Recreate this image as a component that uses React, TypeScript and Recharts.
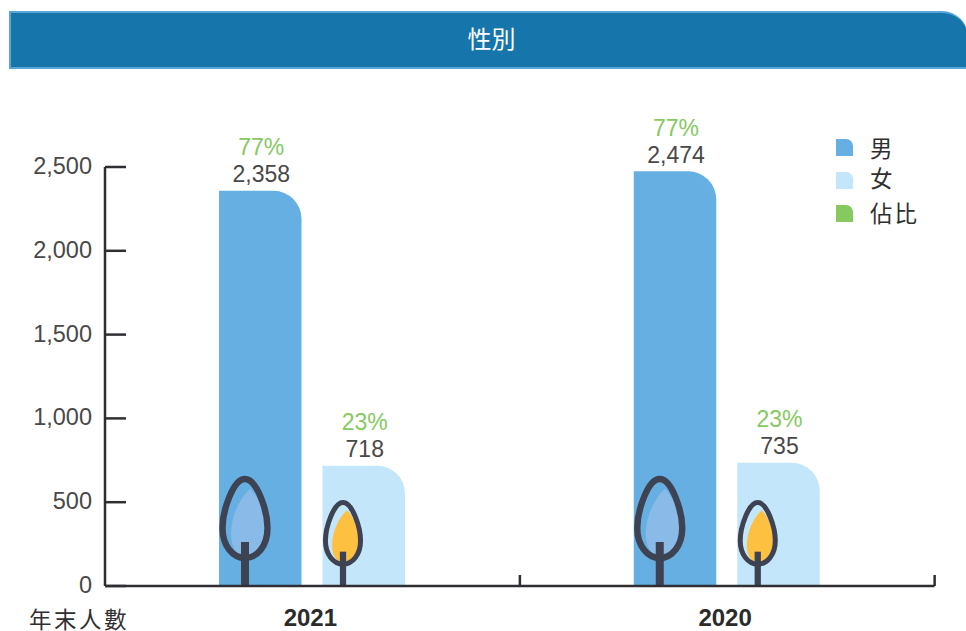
import React from 'react';
import { BarChart, Bar, XAxis, YAxis, LabelList, Legend, Rectangle } from 'recharts';

const years = ['2021', '2020'];
const maleCounts = [2358, 2474];
const femaleCounts = [718, 735];
const malePct = ['77%', '77%'];
const femalePct = ['23%', '23%'];
const yTicks = [0, 500, 1000, 1500, 2000, 2500];

const legendNames = ['男', '女', '佔比'];
const MALE = '#66afe2';
const FEMALE = '#c3e6fa';
const GREEN = '#85c95f';
const INK = '#2f2f33';
const NUM_FONT = '"Liberation Sans", Arial, sans-serif';
const CJK_FONT = '"Noto Sans CJK TC", "Noto Sans", sans-serif';
const legendColors = [MALE, FEMALE, GREEN];

const data = years.map((year, i) => ({
  year,
  male: maleCounts[i],
  female: femaleCounts[i],
  malePct: malePct[i],
  femalePct: femalePct[i],
}));

const BAND = 415;

const Tree = ({ cx, base, scale, fill }: { cx: number; base: number; scale: number; fill: string }) => (
  <g transform={`translate(${cx} ${base}) scale(${scale})`}>
    <path d="M5,-97 C-5,-88 -14,-70 -14,-52 C-14,-40 -8,-30 0,-30 C12,-30 21,-42 21,-58 C21,-72 13,-90 5,-97 Z" fill={fill} />
    <path
      d="M0,-107 C12,-107 22.5,-75 22.5,-58 C22.5,-40 12,-28 0,-28 C-12,-28 -22.5,-40 -22.5,-58 C-22.5,-75 -12,-107 0,-107 Z"
      fill="none"
      stroke="#3d4352"
      strokeWidth={6.4}
    />
    <rect x={-4} y={-44} width={8} height={44} fill="#3d4352" />
  </g>
);

const MaleBar = (props: any) => (
  <g>
    <Rectangle {...props} fill={MALE} radius={[0, 28, 0, 0]} />
    <Tree cx={props.x + 26} base={props.y + props.height} scale={1} fill="#8abae8" />
  </g>
);

const FemaleBar = (props: any) => (
  <g>
    <Rectangle {...props} fill={FEMALE} radius={[0, 28, 0, 0]} />
    <Tree cx={props.x + 20.5} base={props.y + props.height} scale={0.78} fill="#fdc040" />
  </g>
);

const YTick = ({ x, y, payload }: any) => (
  <g>
    <line x1={x + 13} x2={x + 34} y1={y} y2={y} stroke={INK} strokeWidth={2.5} />
    <text x={x} y={y + 7} textAnchor="end" fontFamily={NUM_FONT} fontSize={23.5} fill="#484848">
      {payload.value.toLocaleString('en-US')}
    </text>
  </g>
);

const XTick = ({ x, y, payload }: any) => (
  <g>
    <line x1={x + BAND / 2} x2={x + BAND / 2} y1={y} y2={y - 11} stroke={INK} strokeWidth={2.5} />
    <text x={x - 2} y={y + 40} textAnchor="middle" fontFamily={NUM_FONT} fontWeight="bold" fontSize={24} fill="#2b2b2b">
      {payload.value}
    </text>
  </g>
);

const LegendBox = () => (
  <div style={{ position: 'relative', width: 100, height: 100 }}>
    {legendNames.map((name, i) => {
      const top = [0, 33, 66][i];
      return (
        <div key={name}>
          <div
            style={{
              position: 'absolute',
              left: 0,
              top,
              width: 17,
              height: 17,
              background: legendColors[i],
              borderTopRightRadius: 7,
            }}
          />
          <div
            style={{
              position: 'absolute',
              left: 34,
              top: [-5, 25, 60][i],
              fontFamily: CJK_FONT,
              fontSize: 22.5,
              lineHeight: '26px',
              letterSpacing: 2,
              color: '#2f2f2f',
              whiteSpace: 'nowrap',
            }}
          >
            {name}
          </div>
        </div>
      );
    })}
  </div>
);

export default function App() {
  return (
    <div style={{ position: 'absolute', left: 0, top: 0, width: 966, height: 631, background: '#fff', overflow: 'hidden' }}>
      <div
        style={{
          position: 'absolute',
          left: 9,
          top: 11,
          width: 957,
          height: 54,
          background: '#1675ab',
          border: '2px solid #5ba6d6',
          borderRight: 'none',
          borderTopRightRadius: 26,
          color: '#fff',
          fontFamily: CJK_FONT,
          fontSize: 24,
          lineHeight: '50px',
          textAlign: 'center',
          textIndent: 4,
        }}
      >
        性別
      </div>
      <BarChart
        width={966}
        height={631}
        data={data}
        barSize={82.5}
        barGap={21}
        margin={{ top: 167, right: 31.5, bottom: 0, left: 0 }}
      >
        <XAxis
          dataKey="year"
          height={45}
          tickSize={0}
          tickMargin={0}
          tick={<XTick />}
          axisLine={{ stroke: INK, strokeWidth: 2.5 }}
          tickLine={false}
        />
        <YAxis
          width={105}
          domain={[0, 2500]}
          ticks={yTicks}
          tickSize={0}
          tickMargin={13}
          tick={<YTick />}
          axisLine={{ stroke: INK, strokeWidth: 2.5 }}
          tickLine={false}
        />
        <Legend
          layout="horizontal"
          align="center"
          verticalAlign="middle"
          content={<LegendBox />}
          wrapperStyle={{ position: 'absolute', left: 836, top: 139, width: 100, height: 100 }}
        />
        <Bar dataKey="male" shape={MaleBar} isAnimationActive={false}>
          <LabelList
            dataKey="male"
            position="top"
            offset={8.5}
            dx={1}
            formatter={(v: number) => v.toLocaleString('en-US')}
            style={{ fontFamily: NUM_FONT, fontSize: 23, fill: '#484848' }}
          />
          <LabelList
            dataKey="malePct"
            position="top"
            offset={35.5}
            dx={1}
            style={{ fontFamily: NUM_FONT, fontSize: 23, fill: GREEN }}
          />
        </Bar>
        <Bar dataKey="female" shape={FemaleBar} isAnimationActive={false}>
          <LabelList
            dataKey="female"
            position="top"
            offset={8.5}
            dx={1}
            style={{ fontFamily: NUM_FONT, fontSize: 23, fill: '#484848' }}
          />
          <LabelList
            dataKey="femalePct"
            position="top"
            offset={35.5}
            dx={1}
            style={{ fontFamily: NUM_FONT, fontSize: 23, fill: GREEN }}
          />
        </Bar>
      </BarChart>
      <div
        style={{
          position: 'absolute',
          left: 29,
          top: 607,
          fontFamily: CJK_FONT,
          fontSize: 22.5,
          lineHeight: '23px',
          letterSpacing: 2.5,
          color: '#2f2f2f',
          whiteSpace: 'nowrap',
        }}
      >
        年末人數
      </div>
    </div>
  );
}
